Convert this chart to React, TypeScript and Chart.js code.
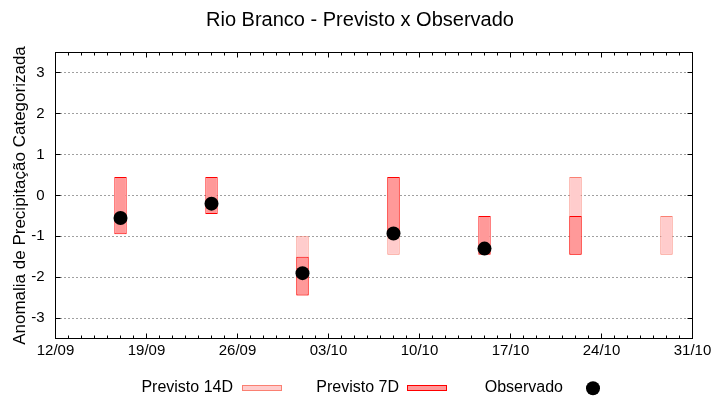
import { useEffect, useRef } from 'react';
import { Chart, registerables } from 'chart.js';

Chart.register(...registerables);

// ---------- data ----------
const chartTitle = 'Rio Branco - Previsto x Observado';
const yAxisTitle = 'Anomalia de Precipitação Categorizada';
const year = 2023;
const startDate = '12/09';
const endDate = '31/10';
const tickLabels = ['12/09', '19/09', '26/09', '03/10', '10/10', '17/10', '24/10', '31/10'];
const yTicks = [-3, -2, -1, 0, 1, 2, 3];
const forecastDates = ['17/09', '24/09', '01/10', '08/10', '15/10', '22/10', '29/10'];
const previsto14D: (number[] | null)[] = [null, null, [-2.45, -1.0], [-1.45, 0.45], null, [-1.45, 0.45], [-1.45, -0.5]];
const previsto7D: (number[] | null)[] = [[-0.95, 0.45], [-0.45, 0.45], [-2.45, -1.5], [-0.95, 0.45], [-1.45, -0.5], [-1.45, -0.5], null];
const observado: (number | null)[] = [-0.55, -0.2, -1.9, -0.93, -1.3, null, null];
const legendLabels = ['Previsto 14D', 'Previsto 7D', 'Observado'];

// ---------- styles ----------
const FONT = '"Liberation Sans", Arial, Helvetica, sans-serif';
const fill14 = '#ffcccc';
const border14 = '#fa8072';
const fill7 = '#ff9999';
const border7 = '#ff0000';
const obsColor = '#000000';
const gridColor = '#a0a0a0';

function parseDM(s: string) {
  const [d, m] = s.split('/').map(Number);
  return Date.UTC(year, m - 1, d);
}
const t0 = parseDM(startDate);
function dayOffset(s: string) {
  return Math.round((parseDM(s) - t0) / 86400000);
}
const tickDays = tickLabels.map(dayOffset);

const snap = (v: number) => Math.floor(v) + 0.5;

const framePlugin = {
  id: 'frame',
  afterDraw(chart: any) {
    const { ctx, chartArea: a, scales } = chart;
    const xs = scales.x;
    const ys = scales.y;
    ctx.save();
    ctx.strokeStyle = '#000';
    ctx.lineWidth = 1;
    ctx.setLineDash([]);
    ctx.beginPath();
    for (let d = xs.min; d <= xs.max; d++) {
      const px = snap(xs.getPixelForValue(d));
      const len = tickDays.includes(d) ? 5 : 3;
      ctx.moveTo(px, a.bottom);
      ctx.lineTo(px, a.bottom - len);
      ctx.moveTo(px, a.top);
      ctx.lineTo(px, a.top + len);
    }
    for (const v of yTicks) {
      const py = snap(ys.getPixelForValue(v));
      ctx.moveTo(a.left, py);
      ctx.lineTo(a.left + 5, py);
      ctx.moveTo(a.right, py);
      ctx.lineTo(a.right - 5, py);
    }
    ctx.stroke();
    ctx.strokeRect(a.left, a.top, a.right - a.left, a.bottom - a.top);

    // legend (text first, then sample)
    ctx.font = `16px ${FONT}`;
    ctx.fillStyle = '#000';
    ctx.textAlign = 'right';
    ctx.textBaseline = 'alphabetic';
    const baseY = 392;
    const textRights = [233, 399, 563];
    ctx.fillText(legendLabels[0], textRights[0], baseY);
    ctx.fillText(legendLabels[1], textRights[1], baseY);
    ctx.fillText(legendLabels[2], textRights[2], baseY);

    const sw = (x: number, f: string, s: string) => {
      ctx.fillStyle = f;
      ctx.fillRect(x, 385, 40, 6);
      ctx.strokeStyle = s;
      ctx.strokeRect(x + 0.5, 385.5, 39, 5);
    };
    sw(textRights[0] + 9, fill14, border14);
    sw(textRights[1] + 8, fill7, border7);
    ctx.fillStyle = obsColor;
    ctx.beginPath();
    ctx.arc(textRights[2] + 30, 388.3, 7, 0, Math.PI * 2);
    ctx.fill();
    ctx.restore();
  },
};

export default function App() {
  const ref = useRef<HTMLCanvasElement>(null);
  useEffect(() => {
    document.body.style.margin = '0';
    Chart.defaults.font.family = FONT;
    Chart.defaults.color = '#000';

    const bars14 = forecastDates
      .map((d, i) => (previsto14D[i] ? { x: dayOffset(d), y: previsto14D[i] } : null))
      .filter(Boolean);
    const bars7 = forecastDates
      .map((d, i) => (previsto7D[i] ? { x: dayOffset(d), y: previsto7D[i] } : null))
      .filter(Boolean);
    const obs = forecastDates
      .map((d, i) => (observado[i] !== null ? { x: dayOffset(d), y: observado[i] } : null))
      .filter(Boolean);

    const barCommon = {
      grouped: false,
      borderWidth: 1,
      borderSkipped: false,
      inflateAmount: 0,
      categoryPercentage: 1,
      barPercentage: 0.1365,
    };

    const chart = new Chart(ref.current!, {
      type: 'bar',
      data: {
        datasets: [
          {
            type: 'scatter',
            label: legendLabels[2],
            data: obs as any,
            backgroundColor: obsColor,
            borderColor: obsColor,
            borderWidth: 0,
            pointRadius: 7,
            pointHoverRadius: 7,
            order: 0,
          } as any,
          {
            label: legendLabels[1],
            data: bars7 as any,
            backgroundColor: fill7,
            borderColor: border7,
            order: 1,
            ...barCommon,
          },
          {
            label: legendLabels[0],
            data: bars14 as any,
            backgroundColor: fill14,
            borderColor: border14,
            order: 2,
            ...barCommon,
          },
        ],
      },
      options: {
        responsive: false,
        animation: false,
        devicePixelRatio: 1,
        layout: { padding: { top: 0, left: 0, right: 0, bottom: 39.5 } },
        plugins: {
          legend: { display: false },
          tooltip: { enabled: false },
          title: {
            display: true,
            text: chartTitle,
            color: '#000',
            font: { size: 20, weight: 'normal', family: FONT },
            padding: { top: 8, bottom: 20.5 },
          },
        },
        scales: {
          x: {
            type: 'linear',
            offset: false,
            min: 0,
            max: dayOffset(endDate),
            afterBuildTicks: (axis: any) => {
              axis.ticks = tickDays.map((v) => ({ value: v }));
            },
            afterFit: (s: any) => {
              s.height = 22;
            },
            ticks: {
              padding: 3,
              maxRotation: 0,
              autoSkip: false,
              font: { size: 15 },
              color: '#000',
              callback: (v: any) => {
                const i = tickDays.indexOf(Number(v));
                return i >= 0 ? tickLabels[i] : '';
              },
            },
            grid: { display: false, drawTicks: false, offset: false },
            border: { display: false },
          },
          y: {
            type: 'linear',
            min: -3.5,
            max: 3.5,
            afterBuildTicks: (axis: any) => {
              axis.ticks = yTicks.map((v) => ({ value: v }));
            },
            afterFit: (s: any) => {
              s.width = 55.5;
            },
            ticks: { padding: 11, font: { size: 15 }, color: '#000' },
            grid: { color: gridColor, lineWidth: 1, drawTicks: false },
            border: { display: false, dash: [2, 2] },
            title: {
              display: true,
              text: yAxisTitle,
              color: '#000',
              font: { size: 17 },
              padding: { top: 10, bottom: 0 },
            },
          },
          yRight: {
            type: 'linear',
            position: 'right',
            display: true,
            min: -3.5,
            max: 3.5,
            afterFit: (s: any) => {
              s.width = 27.5;
            },
            ticks: { display: false },
            grid: { display: false, drawTicks: false },
            border: { display: false },
          },
        },
      } as any,
      plugins: [framePlugin],
    });
    return () => chart.destroy();
  }, []);

  return (
    <div style={{ width: 720, height: 400 }}>
      <canvas ref={ref} width={720} height={400} style={{ display: 'block' }} />
    </div>
  );
}
